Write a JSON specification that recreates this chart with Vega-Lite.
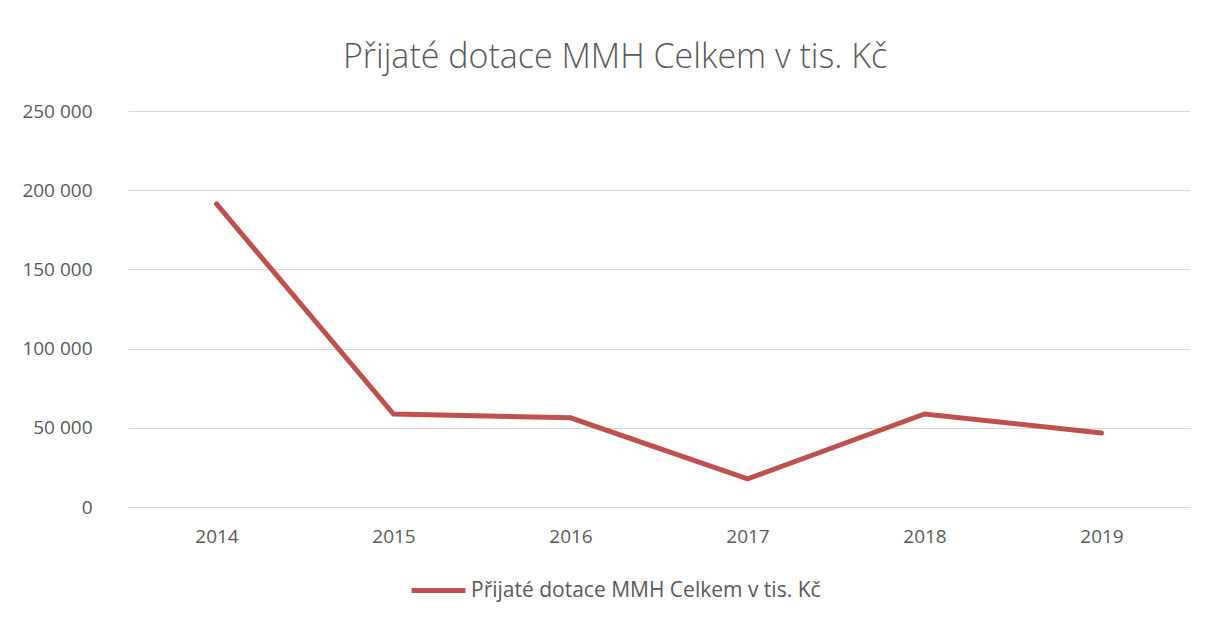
{
  "$schema": "https://vega.github.io/schema/vega-lite/v6.json",
  "autosize": "none",
  "width": 1062,
  "height": 396,
  "padding": {"left": 128, "top": 111, "right": 19, "bottom": 114},
  "background": "white",
  "title": {
    "text": "Přijaté dotace MMH Celkem v tis. Kč",
    "font": "Open Sans",
    "fontWeight": 300,
    "fontSize": 34,
    "color": "#595959",
    "anchor": "middle",
    "dx": -44,
    "offset": 27
  },
  "data": {
    "values": [
      {"rok": "2014", "hodnota": 191300, "serie": "Přijaté dotace MMH Celkem v tis. Kč"},
      {"rok": "2015", "hodnota": 58700, "serie": "Přijaté dotace MMH Celkem v tis. Kč"},
      {"rok": "2016", "hodnota": 56300, "serie": "Přijaté dotace MMH Celkem v tis. Kč"},
      {"rok": "2017", "hodnota": 17700, "serie": "Přijaté dotace MMH Celkem v tis. Kč"},
      {"rok": "2018", "hodnota": 58700, "serie": "Přijaté dotace MMH Celkem v tis. Kč"},
      {"rok": "2019", "hodnota": 46700, "serie": "Přijaté dotace MMH Celkem v tis. Kč"}
    ]
  },
  "mark": {"type": "line", "strokeWidth": 5, "strokeCap": "round", "strokeJoin": "miter"},
  "encoding": {
    "x": {
      "field": "rok",
      "type": "ordinal",
      "scale": {"type": "point", "padding": 0.5},
      "axis": {
        "title": null,
        "labelAngle": 0,
        "ticks": false,
        "domain": true,
        "domainColor": "#D9D9D9",
        "domainWidth": 1,
        "labelPadding": 20,
        "labelFont": "Open Sans",
        "labelFontSize": 19,
        "labelColor": "#595959",
        "grid": false
      }
    },
    "y": {
      "field": "hodnota",
      "type": "quantitative",
      "scale": {"domain": [0, 250000], "nice": false},
      "axis": {
        "title": null,
        "values": [0, 50000, 100000, 150000, 200000, 250000],
        "format": ",d",
        "ticks": false,
        "domain": false,
        "gridColor": "#D9D9D9",
        "gridWidth": 1,
        "labelPadding": 36,
        "labelFont": "Open Sans",
        "labelFontSize": 19,
        "labelColor": "#595959"
      }
    },
    "color": {
      "field": "serie",
      "type": "nominal",
      "scale": {"range": ["#C0504D"]},
      "legend": {
        "title": null,
        "orient": "none",
        "legendX": 281,
        "legendY": 450,
        "symbolType": "stroke",
        "symbolSize": 2900,
        "symbolStrokeWidth": 5,
        "labelFont": "Open Sans",
        "labelFontSize": 21,
        "labelColor": "#595959",
        "labelOffset": 3,
        "labelLimit": 600
      }
    }
  },
  "config": {
    "view": {"stroke": null},
    "locale": {
      "number": {"decimal": ",", "thousands": " ", "grouping": [3], "currency": ["", " Kč"]}
    }
  }
}
